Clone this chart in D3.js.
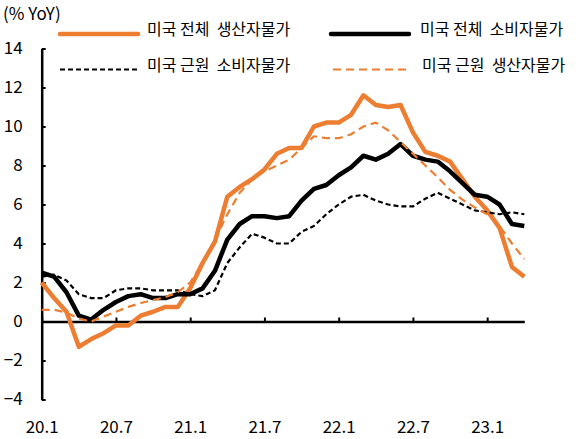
<!DOCTYPE html>
<html>
<head>
<meta charset="utf-8">
<script src="https://cdn.jsdelivr.net/npm/d3@7"></script>
<style>
  body { margin: 0; background: #fff; }
  svg text { font-family: "Noto Sans CJK KR", "Noto Sans", sans-serif; fill: #000; }
</style>
</head>
<body>
<div id="chart"></div>
<script>
// months Jan 2020 .. Apr 2023
const months = ["20.1","20.2","20.3","20.4","20.5","20.6","20.7","20.8","20.9","20.10","20.11","20.12",
                "21.1","21.2","21.3","21.4","21.5","21.6","21.7","21.8","21.9","21.10","21.11","21.12",
                "22.1","22.2","22.3","22.4","22.5","22.6","22.7","22.8","22.9","22.10","22.11","22.12",
                "23.1","23.2","23.3","23.4"]
const xTickLabels = ["20.1","20.7","21.1","21.7","22.1","22.7","23.1"]
const yTicks = [-4, -2, 0, 2, 4, 6, 8, 10, 12, 14]

// % YoY
const ppi = [2.0, 1.2, 0.5, -1.3, -0.9, -0.6, -0.2, -0.2, 0.3, 0.5, 0.75, 0.75,
             1.7, 3.0, 4.1, 6.4, 6.9, 7.3, 7.8, 8.6, 8.9, 8.9, 10.0, 10.2,
             10.2, 10.6, 11.6, 11.1, 11.0, 11.1, 9.7, 8.7, 8.5, 8.2, 7.3, 6.4,
             5.7, 4.8, 2.8, 2.3]
const cpi = [2.5, 2.3, 1.5, 0.3, 0.1, 0.6, 1.0, 1.3, 1.4, 1.2, 1.2, 1.4,
             1.4, 1.7, 2.6, 4.2, 5.0, 5.4, 5.4, 5.3, 5.4, 6.2, 6.8, 7.0,
             7.5, 7.9, 8.5, 8.3, 8.6, 9.1, 8.5, 8.3, 8.2, 7.7, 7.1, 6.5,
             6.4, 6.0, 5.0, 4.9]
const coreCpi = [2.3, 2.4, 2.1, 1.4, 1.2, 1.2, 1.6, 1.7, 1.7, 1.6, 1.6, 1.6,
                 1.4, 1.3, 1.6, 3.0, 3.8, 4.5, 4.3, 4.0, 4.0, 4.6, 4.9, 5.5,
                 6.0, 6.4, 6.5, 6.2, 6.0, 5.9, 5.9, 6.3, 6.6, 6.3, 6.0, 5.7,
                 5.6, 5.5, 5.6, 5.5]
const corePpi = [0.6, 0.6, 0.45, 0.15, 0.0, 0.25, 0.5, 0.75, 0.95, 1.1, 1.25, 1.5,
                 2.0, 3.0, 4.2, 5.5, 6.6, 7.3, 7.7, 8.0, 8.3, 8.9, 9.5, 9.4,
                 9.4, 9.6, 10.0, 10.2, 9.8, 9.2, 8.6, 8.0, 7.4, 6.75, 6.25, 5.85,
                 5.5, 4.9, 4.0, 3.2]

const orange = "#ED7D31"

const series = [
    {name: "미국 전체  생산자물가", values: ppi, color: orange, width: 4.5, dash: null},
    {name: "미국 전체  소비자물가", values: cpi, color: "#000", width: 4.5, dash: null},
    {name: "미국 근원  소비자물가", values: coreCpi, color: "#000", width: 2.2, dash: "5,3"},
    {name: "미국 근원  생산자물가", values: corePpi, color: orange, width: 2.2, dash: "8,5"}
]

width = 580
height = 439

const svg = d3.select("#chart")
    .append("svg")
    .attr("width", width)
    .attr("height", height)

var x = d3.scalePoint()
    .domain(months)
    .range([41.7, 524.3])

var y = d3.scaleLinear()
    .domain([-4, 14])
    .range([399.5, 48.5])

// y axis: ticks point inward, labels right aligned on the left
const yAxis = svg.append("g")
    .attr("transform", `translate(${x(months[0])},0)`)
    .call(d3.axisLeft(y).tickValues(yTicks).tickSizeInner(-4).tickSizeOuter(0).tickPadding(19)
        .tickFormat(d => d < 0 ? "\u2212" + Math.abs(d) : d))
yAxis.selectAll("text").style("font-size", "17px").attr("font-family", null)
yAxis.select(".domain").attr("stroke-width", 2.5)
yAxis.selectAll(".tick line").attr("stroke-width", 2)

// x axis sits on zero, labels down at the bottom
const xAxis = svg.append("g")
    .attr("transform", `translate(0,${y(0)})`)
    .call(d3.axisBottom(x).tickValues(xTickLabels).tickSizeInner(-4).tickSizeOuter(0).tickPadding(99))
xAxis.selectAll("text").style("font-size", "17px").attr("font-family", null)
xAxis.select(".domain").attr("stroke-width", 2.5)
xAxis.selectAll(".tick line").attr("stroke-width", 2)

var line = d3.line()
    .x((d, i) => x(months[i]))
    .y(d => y(d))

svg.selectAll("path.series")
    .data(series)
    .enter().append("path")
    .attr("class", "series")
    .attr("fill", "none")
    .attr("stroke", d => d.color)
    .attr("stroke-width", d => d.width)
    .attr("stroke-dasharray", d => d.dash)
    .attr("stroke-linejoin", "round")
    .attr("d", d => line(d.values))

// unit
svg.append("text")
    .attr("x", 3)
    .attr("y", 20)
    .style("font-size", "17px")
    .text("(% YoY)")

// legend, 2 x 2
const legPos = [[60, 34], [331, 34], [60, 69.5], [333, 69.5]]
const leg = svg.selectAll("g.legend")
    .data(series)
    .enter().append("g")
    .attr("class", "legend")
    .attr("transform", (d, i) => `translate(${legPos[i][0]},${legPos[i][1]})`)

leg.append("line")
    .attr("x1", 0)
    .attr("x2", (d, i) => i == 3 ? 74 : 78)
    .attr("stroke", d => d.color)
    .attr("stroke-width", d => d.width)
    .attr("stroke-dasharray", d => d.dash)
    .attr("stroke-linecap", d => d.dash ? "butt" : "round")

leg.append("text")
    .attr("x", (d, i) => i % 2 ? 89 : 87)
    .attr("y", 1)
    .style("font-size", "16px")
    .style("white-space", "pre")
    .text(d => d.name)
</script>
</body>
</html>
